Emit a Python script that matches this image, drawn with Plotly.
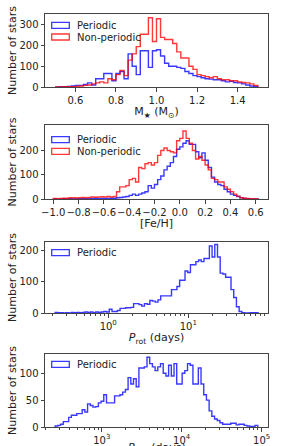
import numpy as np
import plotly.graph_objects as go

# ---------------- data ----------------
# Panel 1: stellar mass, bins 0.5..1.5 width 0.02
mass_edges_start = 0.5
mass_bin_width = 0.02
mass_periodic = [0, 1, 2, 3, 5, 8, 8, 12, 20, 10,
                 40, 40, 65, 65, 30, 65, 75, 40, 160, 100,
                 60, 175, 175, 95, 175, 180, 150, 115, 100, 100,
                 95, 90, 75, 65, 55, 50, 45, 40, 38, 35,
                 35, 30, 25, 28, 22, 20, 15, 10, 5, 3]
mass_nonperiodic = [0, 0, 1, 1, 2, 3, 5, 8, 10, 15,
                    20, 25, 20, 40, 35, 60, 80, 55, 130, 160,
                    195, 255, 255, 335, 220, 330, 240, 230, 230, 210,
                    170, 140, 140, 100, 85, 60, 55, 50, 45, 50,
                    40, 35, 35, 30, 30, 25, 22, 20, 15, 8]

# Panel 2: [Fe/H], bins -1.0..0.625 width 0.025
feh_edges_start = -1.0
feh_bin_width = 0.025
feh_periodic = [0, 0, 0, 1, 0, 1, 0, 1, 1, 1,
                1, 1, 1, 2, 1, 2, 2, 2, 3, 3,
                5, 6, 8, 10, 15, 20, 15, 20, 25, 30,
                55, 45, 60, 80, 95, 120, 135, 150, 175, 205,
                215, 230, 240, 225, 225, 195, 170, 190, 160, 130,
                90, 70, 60, 55, 40, 30, 20, 15, 10, 5,
                2, 1, 0, 0, 0]
feh_nonperiodic = [2, 1, 2, 3, 3, 5, 5, 4, 5, 6,
                   5, 6, 8, 7, 8, 9, 8, 10, 8, 10,
                   30, 50, 50, 55, 80, 85, 70, 130, 125, 145,
                   150, 140, 150, 180, 200, 210, 200, 195, 190, 240,
                   250, 280, 250, 230, 200, 165, 175, 160, 140, 120,
                   85, 80, 70, 70, 50, 40, 30, 20, 12, 5,
                   3, 2, 1, 1, 0]

# Panel 3: rotation period, log bins from 10^-0.663, width 0.0338 dex
prot_log_start = -0.663
prot_log_width = 0.0338
prot_periodic = [2, 1, 1, 0, 1, 0, 2, 1, 2, 1,
                 2, 3, 2, 3, 1, 3, 2, 3, 5, 3,
                 12, 5, 5, 8, 15, 15, 17, 17, 18, 30,
                 30, 27, 22, 30, 28, 40, 38, 35, 42, 55,
                 55, 55, 55, 75, 75, 85, 105, 105, 135, 130,
                 155, 155, 165, 170, 165, 175, 175, 215, 180, 220,
                 180, 128, 125, 115, 115, 75, 50, 20, 5, 1,
                 0, 0, 1, 1, 1]

# Panel 4: cycle period, log bins from 10^2.417, width 0.0338 dex
pcyc_log_start = 2.417
pcyc_log_width = 0.0338
pcyc_periodic = [2, 3, 5, 10, 10, 18, 22, 22, 25, 25,
                 32, 28, 43, 40, 37, 38, 45, 48, 60, 45,
                 45, 45, 58, 58, 60, 65, 70, 92, 80, 90,
                 75, 110, 110, 112, 130, 118, 112, 105, 112, 118,
                 100, 95, 115, 95, 118, 80, 80, 100, 105, 118,
                 115, 80, 80, 110, 80, 60, 50, 30, 20, 15,
                 12, 8, 5, 5, 5, 7, 7, 4, 5, 5,
                 3, 2, 1, 1, 3]

BLUE = "rgba(0,0,255,0.78)"
RED = "rgba(255,0,0,0.78)"
FONT = "DejaVu Sans"

# figure geometry (pixels)
W, H = 299, 446
ML, MR, MT, MB = 45, 31, 14, 19
PW, PH = W - ML - MR, H - MT - MB
panel_px = [(14, 87), (125, 199), (242, 313), (354, 427)]
legend_off = [8.3, 11.7, 7.6, 7.4]   # legend box top below panel top (px)


def px_to_paper(px, py):
    return (px - ML) / PW, (H - MB - py) / PH


def step_xy(edges, counts):
    x = [edges[0]] + list(edges[:-1]) + [edges[-1]]
    y = [0] + list(counts) + [0]
    return x, y


def lin_edges(start, width, n):
    return [start + width * i for i in range(n + 1)]


def log_edges(start, width, n):
    return [10 ** (start + width * i) for i in range(n + 1)]


fig = go.Figure()

panels = [
    (lin_edges(mass_edges_start, mass_bin_width, len(mass_periodic)),
     [("Periodic", mass_periodic, BLUE), ("Non-periodic", mass_nonperiodic, RED)]),
    (lin_edges(feh_edges_start, feh_bin_width, len(feh_periodic)),
     [("Periodic", feh_periodic, BLUE), ("Non-periodic", feh_nonperiodic, RED)]),
    (log_edges(prot_log_start, prot_log_width, len(prot_periodic)),
     [("Periodic", prot_periodic, BLUE)]),
    (log_edges(pcyc_log_start, pcyc_log_width, len(pcyc_periodic)),
     [("Periodic", pcyc_periodic, BLUE)]),
]

doms = [((H - MB - b) / PH, (H - MB - t) / PH) for t, b in panel_px]

shapes = []
annotations = []
for k, (edges, series) in enumerate(panels):
    ax = "" if k == 0 else str(k + 1)
    for j, (name, counts, color) in enumerate(series):
        x, y = step_xy(edges, counts)
        fig.add_trace(go.Scatter(
            x=x, y=y, mode="lines", name=name,
            line=dict(color=color, width=1.4, shape="hv"),
            xaxis="x" + ax, yaxis="y" + ax, showlegend=False, hoverinfo="skip"))
        # legend entry: outlined rectangle + label
        top = panel_px[k][0] + legend_off[k] + 11.7 * j
        x0, y0 = px_to_paper(51.7, top)
        x1, y1 = px_to_paper(69.3, top + 6)
        shapes.append(dict(type="rect", xref="paper", yref="paper",
                           x0=x0, x1=x1, y0=y1, y1=y0,
                           line=dict(color=color, width=1.3), fillcolor="rgba(0,0,0,0)"))
        tx, ty = px_to_paper(75, top + 3)
        annotations.append(dict(text=name, xref="paper", yref="paper", x=tx, y=ty,
                                xanchor="left", yanchor="middle", showarrow=False,
                                font=dict(family=FONT, size=10, color="#222")))

axis_common = dict(showline=True, linecolor="#444", linewidth=1, mirror=True,
                   ticks="outside", ticklen=3.5, tickwidth=1, tickcolor="#444",
                   showgrid=False, zeroline=False, tickangle=0,
                   tickfont=dict(family=FONT, size=10, color="#222"))

minor_log = dict(ticks="outside", ticklen=2, tickcolor="#444", showgrid=False)
title_font = dict(family=FONT, size=11, color="#222")

xaxes = [
    dict(range=[0.45, 1.55], tickvals=[0.6, 0.8, 1.0, 1.2, 1.4], tickformat=".1f",
         title=dict(text="M<sub>★</sub> (M<sub>⊙</sub>)", standoff=0, font=title_font)),
    dict(range=[-1.065, 0.697], tickvals=[-1.0, -0.8, -0.6, -0.4, -0.2, 0.0, 0.2, 0.4, 0.6],
         tickformat=".1f",
         title=dict(text="[Fe/H]", standoff=1, font=title_font)),
    dict(type="log", range=[-0.79, 1.996], tickvals=[1, 10],
         ticktext=["10<sup>0</sup>", "10<sup>1</sup>"],
         minor=dict(tickvals=[m * 10 ** e for e in (-1, 0, 1) for m in range(2, 10)], **minor_log),
         title=dict(text="<i>P</i><sub>rot</sub> (days)", standoff=0, font=title_font)),
    dict(type="log", range=[2.29, 5.08], tickvals=[1e3, 1e4, 1e5],
         ticktext=["10<sup>3</sup>", "10<sup>4</sup>", "10<sup>5</sup>"],
         minor=dict(tickvals=[m * 10 ** e for e in (2, 3, 4) for m in range(2, 10)], **minor_log)),
]
yaxes = [
    dict(range=[0, 353], tickvals=[0, 100, 200, 300]),
    dict(range=[0, 305], tickvals=[0, 100, 200]),
    dict(range=[0, 228], tickvals=[0, 100, 200]),
    dict(range=[0, 136], tickvals=[0, 50, 100]),
]

# bottom panel's x label sits partly below the figure edge, as in the reference
bx, by = px_to_paper(ML + PW / 2, 448)
annotations.append(dict(text="<i>P</i><sub>cyc</sub> (days)", xref="paper", yref="paper",
                        x=bx, y=by, xanchor="center", yanchor="middle", showarrow=False,
                        font=title_font))

layout = dict(
    width=W, height=H,
    margin=dict(l=ML, r=MR, t=MT, b=MB),
    paper_bgcolor="white", plot_bgcolor="white",
    font=dict(family=FONT, size=10, color="#222"),
    showlegend=False,
    shapes=shapes, annotations=annotations,
)
for k in range(4):
    ax = "" if k == 0 else str(k + 1)
    layout["xaxis" + ax] = dict(**axis_common, **xaxes[k], anchor="y" + ax, domain=[0, 1],
                                automargin=False)
    layout["yaxis" + ax] = dict(**axis_common, **yaxes[k], anchor="x" + ax, domain=list(doms[k]),
                                automargin=False,
                                title=dict(text="Number of stars", standoff=0, font=title_font))

fig.update_layout(**layout)
fig.write_html("out.html", config={"displayModeBar": False},
               post_script="document.body.style.margin='0px';")
